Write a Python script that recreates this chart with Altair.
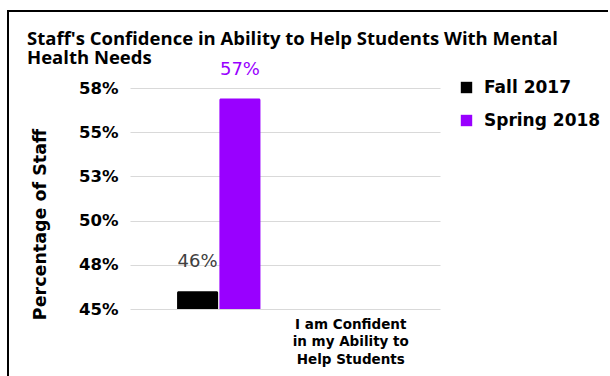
import json
import altair as alt
import pandas as pd

# ---- data ----
series = ["Fall 2017", "Spring 2018"]
values = [46.0, 56.9]
baseline_value = 45
question_lines = ["I am Confident", "in my Ability to", "Help Students"]
question = " ".join(question_lines)
pad_category = "_pad"
y_ticks = [45, 47.5, 50, 52.5, 55, 57.5]
title_lines = ["Staff's Confidence in Ability to Help Students With Mental", "Health Needs"]
colors = ["#000000", "#9900ff"]

df = pd.DataFrame({"question": [question] * len(series), "series": series, "value": values})

x_enc = alt.X(
    "question:N",
    scale=alt.Scale(domain=[question, pad_category], paddingInner=0, paddingOuter=0.17),
    axis=alt.Axis(
        title=None,
        domain=False,
        ticks=False,
        labelAngle=0,
        labelOffset=132,
        labelPadding=8,
        labelFont="DejaVu Sans",
        labelFontWeight="bold",
        labelFontSize=13.5,
        labelLineHeight=17.5,
        labelColor="#000000",
        labelExpr=f"datum.value === {json.dumps(question)} ? {json.dumps(question_lines)} : ''",
    ),
)
xoff_enc = alt.XOffset(
    "series:N",
    scale=alt.Scale(domain=series, paddingInner=0.03, paddingOuter=0.58),
)
y_enc = alt.Y(
    "value:Q",
    scale=alt.Scale(domain=[baseline_value, 57.5], nice=False, zero=False),
    axis=alt.Axis(
        values=y_ticks,
        labelExpr="format(datum.value, '.0f') + '%'",
        domain=False,
        ticks=False,
        grid=True,
        gridColor="#d9d9d9",
        gridWidth=1,
        labelPadding=12,
        labelFont="DejaVu Sans",
        labelFontWeight="bold",
        labelFontSize=16.5,
        labelColor="#000000",
        title="Percentage of Staff",
        titleFont="DejaVu Sans",
        titleFontWeight="bold",
        titleFontSize=17.5,
        titleColor="#000000",
        titleX=-85,
        titleY=136,
        titleAlign="center",
        titleBaseline="alphabetic",
    ),
)

bars = alt.Chart(df).mark_bar(cornerRadiusTopLeft=1.5, cornerRadiusTopRight=1.5).encode(
    x=x_enc,
    xOffset=xoff_enc,
    y=y_enc,
    y2=alt.datum(baseline_value),
    color=alt.Color(
        "series:N",
        scale=alt.Scale(domain=series, range=colors),
        legend=alt.Legend(
            title=None,
            orient="none",
            legendX=328,
            legendY=-9,
            symbolType="square",
            symbolSize=130,
            symbolStrokeWidth=0,
            labelFont="DejaVu Sans",
            labelFontWeight="bold",
            labelFontSize=17,
            labelColor="#000000",
            labelOffset=9,
            rowPadding=15,
        ),
    ),
)

labels = alt.Chart(df).transform_calculate(
    pct="format(datum.value, '.0f') + '%'"
).mark_text(
    font="DejaVu Sans", fontSize=18, baseline="alphabetic", dy=-24
).encode(
    x=x_enc,
    xOffset=xoff_enc,
    y=y_enc,
    text="pct:N",
    color=alt.condition(alt.datum.series == series[0], alt.value("#404040"), alt.value(colors[1])),
)

frame_data = alt.Data(values=[{"f": 1}])
frame_top = alt.Chart(frame_data).mark_rule(color="#000000", strokeWidth=2).encode(
    x=alt.value(-123), x2=alt.value(478), y=alt.value(-77)
)
frame_left = alt.Chart(frame_data).mark_rule(color="#000000", strokeWidth=2).encode(
    x=alt.value(-122), y=alt.value(-78), y2=alt.value(300)
)

chart = alt.layer(bars, labels, frame_top, frame_left).properties(
    width=310,
    height=221,
    autosize=alt.AutoSizeParams(type="none"),
    padding={"left": 130, "top": 88, "right": 170, "bottom": 67},
    title=alt.TitleParams(
        text=title_lines,
        anchor="start",
        frame="group",
        dx=-103,
        dy=80,
        offset=22,
        font="Open Sans",
        fontWeight="bold",
        fontSize=18.5,
        lineHeight=18.5,
        color="#000000",
    ),
    background="#ffffff",
).configure_view(stroke=None)

chart.save("out.html", embed_options={"renderer": "svg", "actions": False})
